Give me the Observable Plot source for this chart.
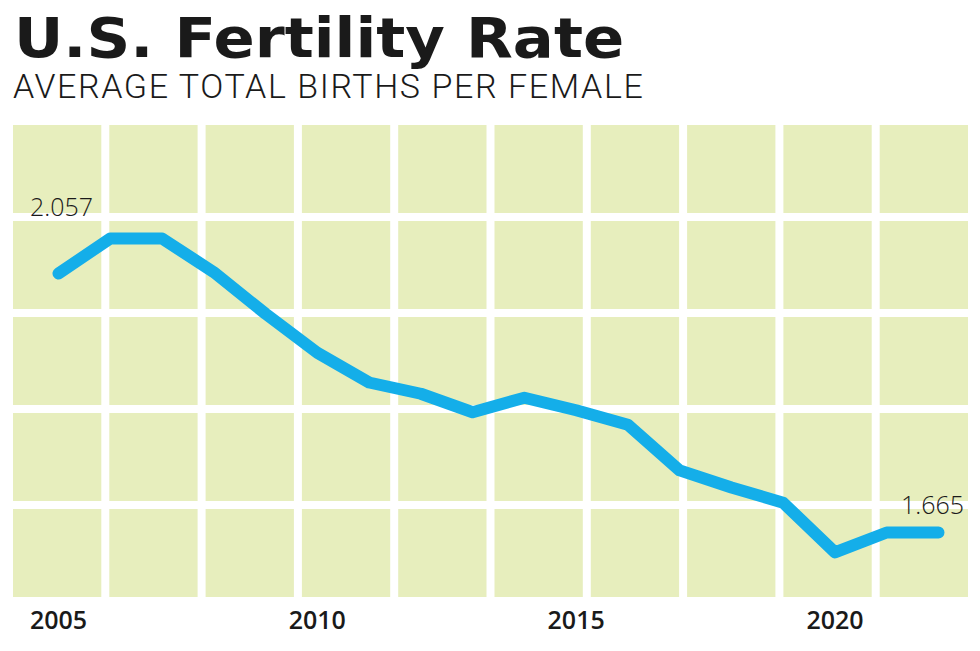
<!DOCTYPE html>
<html>
<head>
<meta charset="utf-8">
<script src="https://cdn.jsdelivr.net/npm/d3@7"></script>
<script src="https://cdn.jsdelivr.net/npm/@observablehq/plot@0.6"></script>
<style>
  html, body { margin: 0; padding: 0; background: #fff; width: 980px; height: 651px; overflow: hidden; }
  #title { position: absolute; left: 14px; top: 11px; font-family: "DejaVu Sans", sans-serif; font-weight: bold; font-size: 55px; line-height: 55px; color: #1a1a1a; white-space: nowrap; transform: scaleX(1.105); transform-origin: left top; }
  #subtitle { position: absolute; left: 13px; top: 69px; font-family: Roboto, sans-serif; font-weight: 300; font-size: 34px; line-height: 34px; color: #1a1a1a; letter-spacing: 1.6px; white-space: nowrap; }
  #chart { position: absolute; left: 0; top: 105px; }
</style>
</head>
<body>
<div id="title">U.S. Fertility Rate</div>
<div id="subtitle">AVERAGE TOTAL BIRTHS PER FEMALE</div>
<div id="chart"></div>
<script>
// ---- data ----
const years = [2005, 2006, 2007, 2008, 2009, 2010, 2011, 2012, 2013, 2014, 2015, 2016, 2017, 2018, 2019, 2020, 2021, 2022];
const rates = [2.057, 2.110, 2.110, 2.059, 1.996, 1.937, 1.892, 1.875, 1.847, 1.869, 1.850, 1.828, 1.759, 1.733, 1.710, 1.635, 1.665, 1.665];
const tickYears = [2005, 2010, 2015, 2020];

// ---- styles ----
const cellFill = "#e7eebd";
const lineColor = "#14aee9";
const gridCols = 10, gridRows = 5, gridGap = 8;

const data = years.map((year, i) => ({year, rate: rates[i]}));
const firstPoint = [data[0]];
const lastPoint = [data[data.length - 1]];

// decorative tiled background, laid out from the plot's own dimensions
function tiles(index, scales, values, dimensions) {
  const {width, height, marginLeft, marginRight, marginTop, marginBottom} = dimensions;
  const w = width - marginLeft - marginRight;
  const h = height - marginTop - marginBottom;
  const cw = (w + gridGap) / gridCols - gridGap;
  const ch = (h + gridGap) / gridRows - gridGap;
  const g = d3.create("svg:g");
  for (let i = 0; i < gridCols; i++) {
    for (let j = 0; j < gridRows; j++) {
      g.append("rect")
        .attr("x", marginLeft + i * (cw + gridGap))
        .attr("y", marginTop + j * (ch + gridGap))
        .attr("width", cw)
        .attr("height", ch)
        .attr("fill", cellFill);
    }
  }
  return g.node();
}

const chart = Plot.plot({
  width: 980,
  height: 546,
  marginTop: 20,
  marginBottom: 54,
  marginLeft: 13,
  marginRight: 12,
  style: {background: "transparent", overflow: "visible"},
  x: {domain: [2005, 2022], insetLeft: 45, insetRight: 30},
  y: {domain: [1.5666, 2.281]},
  marks: [
    tiles,
    Plot.line(data, {x: "year", y: "rate", stroke: lineColor, strokeWidth: 12, strokeLinecap: "round", strokeLinejoin: "round"}),
    Plot.text(firstPoint, {x: "year", y: "rate", text: d => d.rate.toFixed(3), dx: 3, dy: -65, fontSize: 25, fontWeight: 300, fontFamily: "Open Sans", fill: "#1a1a1a"}),
    Plot.text(lastPoint, {x: "year", y: "rate", text: d => d.rate.toFixed(3), dx: -6, dy: -26, fontSize: 25, fontWeight: 300, fontFamily: "Open Sans", fill: "#1a1a1a"}),
    Plot.axisX({ticks: tickYears, tickFormat: d => String(d), tickSize: 0, tickPadding: 14, fontSize: 25, fontWeight: 600, fontFamily: "Open Sans", fill: "#1a1a1a", label: null}),
    Plot.axisY({ticks: [], label: null})
  ]
});
document.getElementById("chart").appendChild(chart);
</script>
</body>
</html>
